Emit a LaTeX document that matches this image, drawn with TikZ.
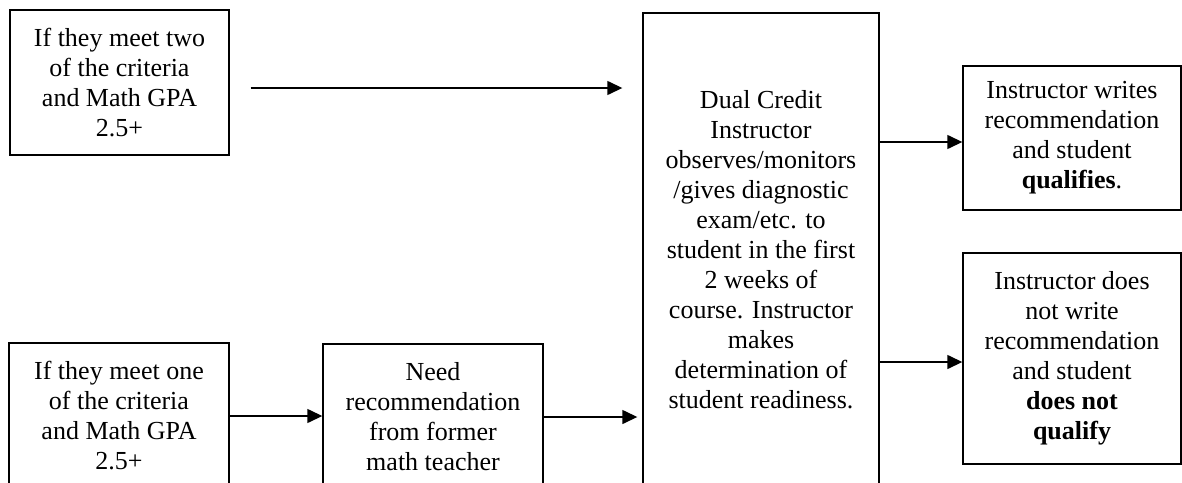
\documentclass[tikz,border=0pt]{standalone}
\usepackage{fontspec}
\setmainfont{Liberation Serif}
\usetikzlibrary{arrows.meta}

\begin{document}
\begin{tikzpicture}[x=0.5pt, y=-0.5pt,
  box/.style={draw, line width=0.7pt, align=center, inner sep=0pt, font=\fontsize{13}{15}\selectfont},
  flow/.style={line width=0.7pt, -{Triangle[length=7.5pt, width=7pt]}}]

\useasboundingbox (0,0) rectangle (1182,482);
\clip (0,0) rectangle (1182,482);

% left column
\node[box, minimum width=109.5pt, minimum height=72.5pt] (two) at (119.5,82.5) {If they meet two\\of the criteria\\and Math GPA\\2.5+};
\node[box, minimum width=110pt, minimum height=73pt] (one) at (119,416) {If they meet one\\of the criteria\\and Math GPA\\2.5+};
\node[box, minimum width=110pt, minimum height=73pt] (need) at (433,417) {Need\\recommendation\\from former\\math teacher};

% instructor box
\node[box, minimum width=118pt, minimum height=236.5pt] (dual) at (761,249.5) {Dual Credit\\Instructor\\observes/monitors\\/gives diagnostic\\exam/etc. to\\student in the first\\2 weeks of\\course. Instructor\\makes\\determination of\\student readiness.};

% outcomes
\node[box, minimum width=109pt, minimum height=72pt] (yes) at (1072,138) {Instructor writes\\recommendation\\and student\\\textbf{qualifies}.};
\node[box, minimum width=109pt, minimum height=105.5pt] (no) at (1072,358.5) {Instructor does\\not write\\recommendation\\and student\\\textbf{does not}\\\textbf{qualify}};

% arrows
\draw[flow, shorten <=10.5pt, shorten >=10pt] ([yshift=-2.75pt]two.east) -- ([yshift=-2.75pt]two.east -| dual.west);
\draw[flow] (one.east) -- (one.east -| need.west);
\draw[flow, shorten >=2.5pt] (need.east) -- (need.east -| dual.west);
\draw[flow] ([yshift=-2pt]yes.west -| dual.east) -- ([yshift=-2pt]yes.west);
\draw[flow] ([yshift=-1.75pt]no.west -| dual.east) -- ([yshift=-1.75pt]no.west);

\end{tikzpicture}
\end{document}
